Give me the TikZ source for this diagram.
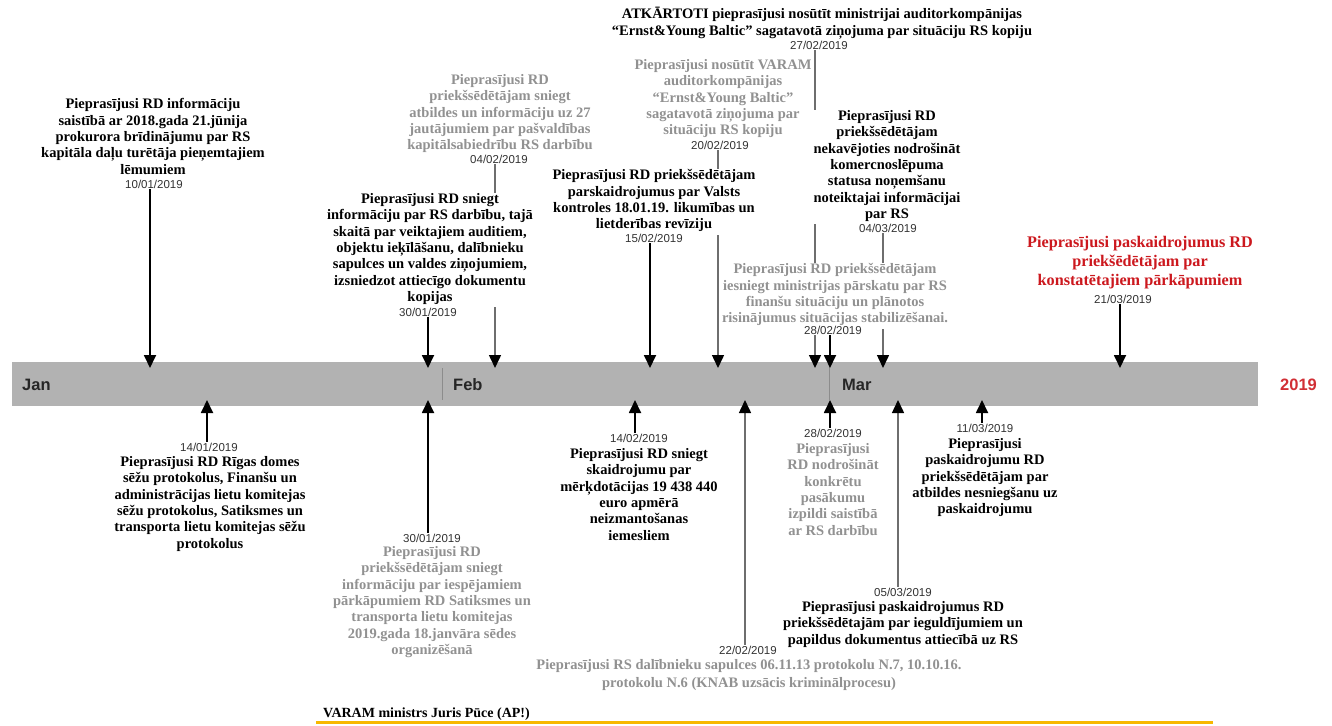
\documentclass[tikz,border=0pt]{standalone}
\usepackage{fontspec}
\setmainfont{Liberation Serif}
\newfontfamily\arialf{Liberation Sans}
\usetikzlibrary{arrows.meta}
\definecolor{barc}{RGB}{178,178,178}
\definecolor{sepc}{RGB}{140,140,140}
\definecolor{gtext}{RGB}{145,145,145}
\definecolor{dtext}{RGB}{51,51,51}
\definecolor{redt}{RGB}{204,24,30}
\definecolor{stemg}{RGB}{110,110,110}
\definecolor{yell}{RGB}{247,184,0}
\pgfdeclarelayer{back}
\pgfdeclarelayer{stems}
\pgfsetlayers{back,stems,main}
\tikzset{
 evt/.style={align=center, fill=white, inner xsep=1pt, inner ysep=1pt, anchor=north,
   font=\bfseries\fontsize{14.5}{16.3}\selectfont,
   execute at begin node=\strut, execute at end node=\strut},
 evb/.style={evt, text=black},
 evg/.style={evt, text=gtext},
 evr/.style={evt, text=redt, font=\bfseries\fontsize{16.2}{19}\selectfont},
 dlab/.style={anchor=base, fill=white, inner sep=1pt, text=dtext, font=\arialf\fontsize{11.5}{13}\selectfont},
 month/.style={anchor=west, inner sep=0pt, text=black!85, font=\arialf\bfseries\fontsize{16.5}{18}\selectfont},
 arrtip/.style={-{Triangle[length=13pt,width=12pt,color=black]}},
 stemb/.style={arrtip, draw=black, line width=1.8pt},
 stemgr/.style={arrtip, draw=stemg, line width=1.5pt},
}
\begin{document}
\begin{tikzpicture}[x=1pt,y=-1pt]
\useasboundingbox (0,0) rectangle (1332,725);

% timeline bar
\begin{pgfonlayer}{back}
\fill[barc] (12,362) rectangle (1258,406);
\draw[sepc, line width=1pt] (442,368) -- (442,400);
\draw[sepc, line width=1pt] (829,362) -- (829,400);
\end{pgfonlayer}
\node[month] (jan) at (22,385) {Jan};
\node[month] (feb) at (453,385) {Feb};
\node[month] (mar) at (842,385) {Mar};
\node[month, text=redt!90!white] (yr) at (1280,385) {2019};

% arrow targets on the bar
\coordinate (a1) at (150,368);
\coordinate (a2) at (428,368);
\coordinate (a3) at (495,368);
\coordinate (a4) at (650,368);
\coordinate (a5) at (718,368);
\coordinate (a6) at (815,368);
\coordinate (a7) at (883,368);
\coordinate (a8) at (830,368);
\coordinate (a9) at (1120,368);
\coordinate (b1) at (207,400);
\coordinate (b2) at (428,400);
\coordinate (b3) at (635,400);
\coordinate (b4) at (745,400);
\coordinate (b5) at (830,400);
\coordinate (b6) at (898,400);
\coordinate (b7) at (982,400);

% top events
\node[evb] (t1) at (153,97.4) {Pieprasījusi RD informāciju\\saistībā ar 2018.gada 21.jūnija\\prokurora brīdinājumu par RS\\kapitāla daļu turētāja pieņemtajiem\\lēmumiem};
\node[evb] (t2) at (430,192.4) {Pieprasījusi RD sniegt\\informāciju par RS darbību, tajā\\skaitā par veiktajiem auditiem,\\objektu ieķīlāšanu, dalībnieku\\sapulces un valdes ziņojumiem,\\izsniedzot attiecīgo dokumentu\\kopijas};
\node[evg] (t3) at (500,73.4) {Pieprasījusi RD\\priekšsēdētājam sniegt\\atbildes un informāciju uz 27\\jautājumiem par pašvaldības\\kapitālsabiedrību RS darbību};
\node[evb] (t4) at (654,168.4) {Pieprasījusi RD priekšsēdētājam\\parskaidrojumus par Valsts\\kontroles 18.01.19. likumības un\\lietderības revīziju};
\node[evg] (t5) at (723,58.4) {Pieprasījusi nosūtīt VARAM\\auditorkompānijas\\“Ernst\&Young Baltic”\\sagatavotā ziņojuma par\\situāciju RS kopiju};
\node[evb] (t6) at (822,6.4) {ATKĀRTOTI pieprasījusi nosūtīt ministrijai auditorkompānijas\\“Ernst\&Young Baltic” sagatavotā ziņojuma par situāciju RS kopiju};
\node[evb, inner xsep=6pt] (t7) at (887,109.4) {Pieprasījusi RD\\priekšsēdētājam\\nekavējoties nodrošināt\\komercnoslēpuma\\statusa noņemšanu\\noteiktajai informācijai\\par RS};
\node[evg] (t8) at (835,262.4) {Pieprasījusi RD priekšsēdētājam\\iesniegt ministrijas pārskatu par RS\\finanšu situāciju un plānotos\\risinājumus situācijas stabilizēšanai.};
\node[evr] (t9) at (1140,235) {Pieprasījusi paskaidrojumus RD\\priekšēdētājam par\\konstatētajiem pārkāpumiem};

% bottom events
\node[evb] (u1) at (210,455.4) {Pieprasījusi RD Rīgas domes\\sēžu protokolus, Finanšu un\\administrācijas lietu komitejas\\sēžu protokolus, Satiksmes un\\transporta lietu komitejas sēžu\\protokolus};
\node[evg] (u2) at (432,545.4) {Pieprasījusi RD\\priekšsēdētājam sniegt\\informāciju par iespējamiem\\pārkāpumiem RD Satiksmes un\\transporta lietu komitejas\\2019.gada 18.janvāra sēdes\\organizēšanā};
\node[evb] (u3) at (639,447.4) {Pieprasījusi RD sniegt\\skaidrojumu par\\mērķdotācijas 19 438 440\\euro apmērā\\neizmantošanas\\iemesliem};
\node[evg, font=\bfseries\fontsize{14.5}{18}\selectfont] (u4) at (749,658.2) {Pieprasījusi RS dalībnieku sapulces 06.11.13 protokolu N.7, 10.10.16.\\protokolu N.6 (KNAB uzsācis kriminālprocesu)};
\node[evg] (u5) at (833,442.4) {Pieprasījusi\\RD nodrošināt\\konkrētu\\pasākumu\\izpildi saistībā\\ar RS darbību};
\node[evb] (u6) at (903,600.4) {Pieprasījusi paskaidrojumus RD\\priekšsēdētajām par ieguldījumiem un\\papildus dokumentus attiecībā uz RS};
\node[evb] (u7) at (985,437.4) {Pieprasījusi\\paskaidrojumu RD\\priekšsēdētājam par\\atbildes nesniegšanu uz\\paskaidrojumu};

% dates
\node[dlab] (d1) at (154,188.1) {10/01/2019};
\node[dlab] (d2) at (428,316.1) {30/01/2019};
\node[dlab] (d3) at (499,163.1) {04/02/2019};
\node[dlab] (d4) at (654,242.1) {15/02/2019};
\node[dlab] (d5) at (720,149.1) {20/02/2019};
\node[dlab] (d6) at (819,49.1) {27/02/2019};
\node[dlab] (d7) at (888,232.1) {04/03/2019};
\node[dlab] (d8) at (833,334.1) {28/02/2019};
\node[dlab] (d9) at (1123,303.1) {21/03/2019};
\node[dlab] (e1) at (209,451.1) {14/01/2019};
\node[dlab] (e2) at (432,542.1) {30/01/2019};
\node[dlab] (e3) at (639,442.1) {14/02/2019};
\node[dlab] (e4) at (748,654.1) {22/02/2019};
\node[dlab] (e5) at (833,437.1) {28/02/2019};
\node[dlab] (e6) at (903,596.1) {05/03/2019};
\node[dlab] (e7) at (985,432.1) {11/03/2019};

% connectors
\begin{pgfonlayer}{stems}
\draw[stemb]  (d1.south -| a1) -- (a1);
\draw[stemb]  (d2.south -| a2) -- (a2);
\draw[stemgr] (d3.south -| a3) -- (a3);
\draw[stemb]  (d4.south -| a4) -- (a4);
\draw[stemgr] (d5.south -| a5) -- (a5);
\draw[stemgr] (d6.south -| a6) -- (a6);
\draw[stemgr] (d7.south -| a7) -- (a7);
\draw[stemb]  (d8.south -| a8) -- (a8);
\draw[stemb]  (d9.south -| a9) -- (a9);
\draw[stemb]  (e1.north -| b1) -- (b1);
\draw[stemb]  (e2.north -| b2) -- (b2);
\draw[stemb]  (e3.north -| b3) -- (b3);
\draw[stemgr] (e4.north -| b4) -- (b4);
\draw[stemb]  (e5.north -| b5) -- (b5);
\draw[stemgr] (e6.north -| b6) -- (b6);
\draw[stemb]  (e7.north -| b7) -- (b7);
\end{pgfonlayer}

% minister line
\node[anchor=base west, inner sep=0pt, font=\bfseries\fontsize{14}{16}\selectfont] (min) at (323,717.5) {VARAM ministrs Juris Pūce (AP!)};
\coordinate (y1) at (316,722);
\coordinate (y2) at (1213,722);
\draw[yell, line width=3pt] (y1) -- (y2);
\end{tikzpicture}
\end{document}
